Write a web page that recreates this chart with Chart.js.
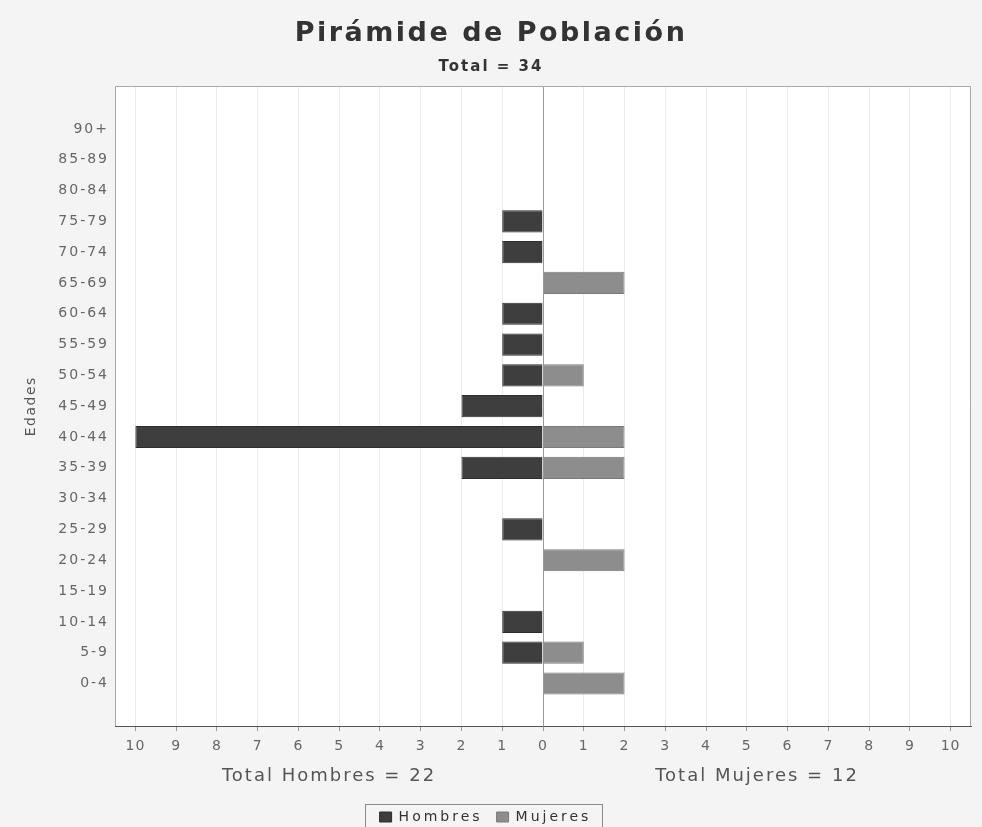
<!DOCTYPE html>
<html><head><meta charset="utf-8">
<script src="https://cdn.jsdelivr.net/npm/chart.js@4/dist/chart.umd.min.js"></script>
<style>html,body{margin:0;padding:0;background:#f4f4f4;overflow:hidden}#c{display:block}</style>
</head><body><canvas id="c" width="982" height="827"></canvas>
<script>
// ---- data ----
const categories = ['0-4','5-9','10-14','15-19','20-24','25-29','30-34','35-39','40-44','45-49','50-54','55-59','60-64','65-69','70-74','75-79','80-84','85-89','90+'];
const hombres = [0,1,1,0,0,1,0,2,10,2,1,1,1,0,1,1,0,0,0];
const mujeres = [2,1,0,0,2,0,0,2,2,0,1,0,0,2,0,0,0,0,0];
const xTicks = [-10,-9,-8,-7,-6,-5,-4,-3,-2,-1,0,1,2,3,4,5,6,7,8,9,10];
const xTickLabels = ['10','9','8','7','6','5','4','3','2','1','0','1','2','3','4','5','6','7','8','9','10'];
const seriesNames = ['Hombres','Mujeres'];
const titleText = 'Pirámide de Población';
const yAxisTitle = 'Edades';

const totalH = hombres.reduce((a,b)=>a+b,0);
const totalM = mujeres.reduce((a,b)=>a+b,0);
const subtitleText = 'Total = ' + (totalH + totalM);
const FONT = "'DejaVu Sans', sans-serif";

function wrapSpacing(obj, method, px){
  if (!obj || obj['_sp_'+method]) return;
  const orig = obj[method];
  obj[method] = function(...args){
    const ctx = this.ctx;
    const prev = ctx.letterSpacing;
    ctx.letterSpacing = px + 'px';
    try { return orig.apply(this, args); } finally { ctx.letterSpacing = prev || '0px'; }
  };
  obj['_sp_'+method] = true;
}
function findSubtitle(chart){
  return chart.boxes.find(b => b.options && b.options.text === subtitleText);
}

const spacingPlugin = {
  id: 'spacingPlugin',
  beforeUpdate(chart){
    wrapSpacing(chart.titleBlock, 'draw', 2.5);
    wrapSpacing(findSubtitle(chart), 'draw', 2);
    wrapSpacing(chart.legend, 'fit', 3);
    wrapSpacing(chart.legend, 'draw', 3);
    if (chart.scales.y){ wrapSpacing(chart.scales.y, 'drawLabels', 2); wrapSpacing(chart.scales.y, 'drawTitle', 1.5); }
    if (chart.scales.x){ wrapSpacing(chart.scales.x, 'drawLabels', 1); }
  },
  afterLayout(chart){
    // center title blocks on the full canvas width
    [chart.titleBlock, findSubtitle(chart)].forEach(b => {
      if (b){ b.left = 0; b.right = chart.width; b.width = chart.width; }
    });
  }
};

const decor = {
  id: 'decor',
  beforeDraw(chart){
    const {ctx, chartArea:a} = chart;
    ctx.save();
    ctx.fillStyle = '#f4f4f4'; ctx.fillRect(0,0,chart.width,chart.height);
    ctx.fillStyle = '#ffffff'; ctx.fillRect(a.left, a.top, a.right-a.left, a.bottom-a.top);
    ctx.restore();
  },
  afterDraw(chart){
    const {ctx, chartArea:a, scales:{x}} = chart;
    ctx.save();
    ctx.strokeStyle = '#a8a8a8'; ctx.lineWidth = 1;
    ctx.beginPath();
    ctx.moveTo(Math.round(a.left)+0.5, a.bottom); ctx.lineTo(Math.round(a.left)+0.5, Math.round(a.top)+0.5);
    ctx.lineTo(Math.round(a.right)-0.5, Math.round(a.top)+0.5); ctx.lineTo(Math.round(a.right)-0.5, a.bottom);
    ctx.stroke();
    ctx.font = '18px ' + FONT; ctx.fillStyle = '#555'; ctx.textAlign = 'center'; ctx.textBaseline = 'middle';
    ctx.letterSpacing = '2px';
    const ty = x.top + 50;
    const mid = x.getPixelForValue(0);
    ctx.fillText('Total ' + seriesNames[0] + ' = ' + totalH, (a.left + mid)/2, ty);
    ctx.fillText('Total ' + seriesNames[1] + ' = ' + totalM, (mid + a.right)/2, ty);
    ctx.letterSpacing = '0px';
    const hb = chart.legend && chart.legend.legendHitBoxes;
    if (hb && hb.length){
      const l = hb[0].left - 15, r = hb[hb.length-1].left + hb[hb.length-1].width + 10;
      const t = hb[0].top - 6, b = hb[0].top + hb[0].height + 8;
      ctx.strokeStyle = '#8a8a8a';
      ctx.strokeRect(Math.round(l)+0.5, Math.round(t)+0.5, Math.round(r-l), Math.round(b-t));
    }
    ctx.restore();
  }
};

const hData = categories.map((c,i) => ({y: i, x: hombres[i] ? -hombres[i] : null}));
const mData = categories.map((c,i) => ({y: i, x: mujeres[i] ? mujeres[i] : null}));

new Chart(document.getElementById('c'), {
  type: 'bar',
  data: {
    datasets: [
      {label: seriesNames[0], data: hData, backgroundColor: '#3e3e3e', borderColor: '#2c2c2c', borderWidth: 1, barPercentage: 0.72, categoryPercentage: 1},
      {label: seriesNames[1], data: mData, backgroundColor: '#8d8d8d', borderColor: '#7a7a7a', borderWidth: 1, barPercentage: 0.72, categoryPercentage: 1}
    ]
  },
  options: {
    indexAxis: 'y',
    responsive: false,
    animation: false,
    layout: {padding: {left: 0, right: 11, top: 0, bottom: -7}},
    plugins: {
      tooltip: {enabled: false},
      title: {display: true, text: titleText, color: '#333', font: {family: FONT, size: 27, weight: 'bold'}, padding: {top: 18, bottom: 4}},
      subtitle: {display: true, text: subtitleText, color: '#333', font: {family: FONT, size: 15, weight: 'bold'}, padding: {top: 4, bottom: 10}},
      legend: {position: 'bottom', labels: {color: '#333', font: {family: FONT, size: 14}, boxWidth: 12, boxHeight: 10, padding: 14}}
    },
    scales: {
      x: {
        type: 'linear', min: -10.5, max: 10.5, stacked: true,
        afterBuildTicks: s => { s.ticks = xTicks.map(v => ({value: v})); },
        afterFit: s => { s.height = 70; },
        ticks: {color: '#666', font: {family: FONT, size: 14}, padding: 7, maxRotation: 0, autoSkip: false,
                callback: v => xTickLabels[xTicks.indexOf(v)]},
        grid: {color: c => (c.tick && c.tick.value === 0) ? '#9a9a9a' : '#ececec', tickColor: '#9a9a9a', tickLength: 5},
        border: {display: true, color: '#555'}
      },
      y: {
        type: 'linear', min: -1.38, max: 19.38, stacked: true, offset: false,
        afterBuildTicks: s => { s.ticks = categories.map((c,i) => ({value: i})); },
        afterFit: s => { s.width = 115; },
        ticks: {color: '#666', font: {family: FONT, size: 14}, padding: 6, autoSkip: false,
                callback: v => categories[v]},
        grid: {display: false, drawTicks: false},
        border: {display: false},
        title: {display: true, text: yAxisTitle, color: '#555', font: {family: FONT, size: 14}, padding: {top: 23, bottom: 0}}
      }
    }
  },
  plugins: [spacingPlugin, decor]
});
</script>
</body></html>
